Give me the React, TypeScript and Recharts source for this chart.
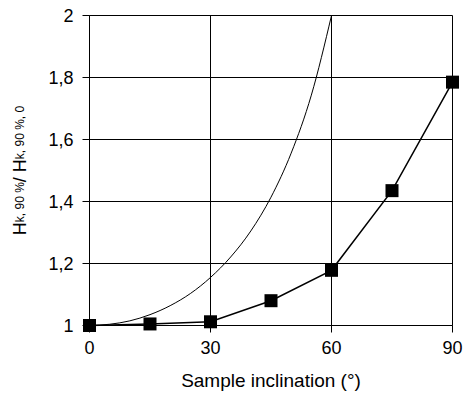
import { LineChart, Line, XAxis, YAxis, CartesianGrid } from "recharts";

// measured points (square markers)
const inclination = [0, 15, 30, 45, 60, 75, 90];
const ratio = [1.0, 1.005, 1.012, 1.08, 1.178, 1.435, 1.785];

// thin reference curve
const curveX = [0, 5, 10, 15, 20, 25, 30, 35, 40, 45, 50, 55, 60];
const curveY = [1.0, 1.004, 1.015, 1.035, 1.064, 1.103, 1.155, 1.221, 1.305, 1.414, 1.556, 1.743, 2.0];

const xTicks = [0, 30, 60, 90];
const yTicks = [1, 1.2, 1.4, 1.6, 1.8, 2];

const measured = inclination.map((x, i) => ({ x, y: ratio[i] }));
const curve = curveX.map((x, i) => ({ x, y: curveY[i] }));

const font = "'Liberation Sans', Arial, sans-serif";

const SquareDot = (props: any) => {
  const { cx, cy, index } = props;
  if (cx == null || cy == null) return null;
  return <rect key={index} x={cx - 6.5} y={cy - 6.5} width={13} height={13} fill="#000" />;
};

const YLabel = (props: any) => {
  const vb = props.viewBox || { x: 0, y: 15.5, width: 89.5, height: 310 };
  const cx = vb.x + 26;
  const cy = vb.y + vb.height / 2;
  return (
    <text
      x={cx}
      y={cy}
      transform={`rotate(-90, ${cx}, ${cy})`}
      textAnchor="middle"
      fontFamily={font}
      fontSize={18}
      fill="#000"
    >
      H
      <tspan fontSize={12} dy={-2}>k, 90 %</tspan>
      <tspan fontSize={18} dy={2}>/ H</tspan>
      <tspan fontSize={12} dy={-2}>k, 90 %, 0</tspan>
    </text>
  );
};

const XLabel = (props: any) => {
  const vb = props.viewBox || { x: 89.5, y: 325.5, width: 363, height: 70.5 };
  return (
    <text
      x={vb.x + vb.width / 2}
      y={vb.y + 61}
      textAnchor="middle"
      fontFamily={font}
      fontSize={19}
      fill="#000"
    >
      Sample inclination (°)
    </text>
  );
};

export default function App() {
  return (
    <div style={{ position: "absolute", left: 0, top: 0, background: "#fff" }}>
      <LineChart width={471} height={396} margin={{ top: 15.5, right: 18.5, bottom: 0, left: 0 }}>
        <CartesianGrid stroke="#000" strokeWidth={1} />
        <XAxis
          type="number"
          dataKey="x"
          domain={[0, 90]}
          ticks={xTicks}
          height={70.5}
          axisLine={{ stroke: "#000" }}
          tickLine={{ stroke: "#000" }}
          tickSize={7}
          tickMargin={9}
          tick={{ fill: "#000", fontSize: 18, fontFamily: font }}
          label={{ content: XLabel }}
        />
        <YAxis
          type="number"
          dataKey="y"
          domain={[1, 2]}
          ticks={yTicks}
          width={89.5}
          axisLine={{ stroke: "#000" }}
          tickLine={{ stroke: "#000" }}
          tickSize={7}
          tickMargin={9}
          tick={{ fill: "#000", fontSize: 18, fontFamily: font }}
          tickFormatter={(v: number) => String(v).replace(".", ",")}
          label={{ content: YLabel }}
        />
        <Line
          data={curve}
          dataKey="y"
          type="monotone"
          stroke="#000"
          strokeWidth={1}
          dot={false}
          isAnimationActive={false}
        />
        <Line
          data={measured}
          dataKey="y"
          type="linear"
          stroke="#000"
          strokeWidth={1.5}
          dot={SquareDot}
          activeDot={false}
          isAnimationActive={false}
        />
      </LineChart>
    </div>
  );
}
